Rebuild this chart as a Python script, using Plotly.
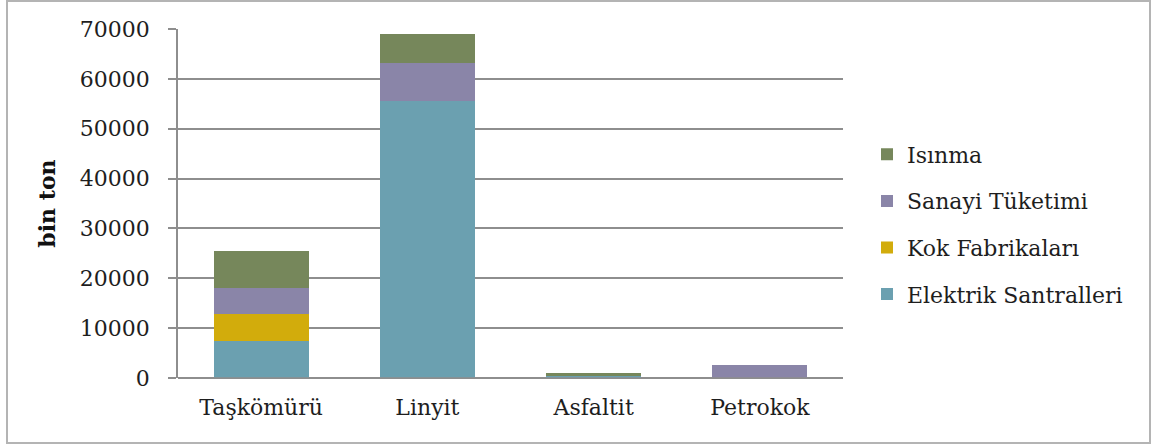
import plotly.graph_objects as go

categories = ["Taşkömürü", "Linyit", "Asfaltit", "Petrokok"]
elektrik = [7400, 55500, 350, 0]
kok = [5400, 0, 0, 0]
sanayi = [5200, 7700, 0, 2600]
isinma = [7400, 5700, 650, 0]
y_ticks = [0, 10000, 20000, 30000, 40000, 50000, 60000, 70000]
y_tick_labels = [str(v) for v in y_ticks]

series = [
    ("Elektrik Santralleri", elektrik, "#6BA0B0", 4),
    ("Kok Fabrikaları", kok, "#D2AC0C", 3),
    ("Sanayi Tüketimi", sanayi, "#8A85A8", 2),
    ("Isınma", isinma, "#76875B", 1),
]

FONT = "DejaVu Serif"
GRID = "#8E8E8E"
TXT = "#1E1E1E"

fig = go.Figure()
for name, vals, color, rank in series:
    fig.add_trace(go.Bar(
        x=categories, y=vals, name=name, legendgroup=name, legendrank=rank,
        marker=dict(color=color, line=dict(width=0)),
    ))

W, H = 1155, 446
L, R, T, B = 178, 843, 29, 378
pw, ph = R - L, B - T

fig.update_layout(
    width=W, height=H,
    barmode="stack", bargap=0.43,
    margin=dict(l=L, r=W - R, t=T, b=H - B, autoexpand=False),
    paper_bgcolor="white", plot_bgcolor="white",
    font=dict(family=FONT, size=22, color=TXT),
    showlegend=True,
    legend=dict(
        traceorder="grouped", tracegroupgap=15,
        x=(867 - L) / pw, xanchor="left",
        y=0.5 - 21 / ph, yanchor="middle",
        font=dict(family=FONT, size=22, color=TXT),
        bgcolor="rgba(0,0,0,0)",
    ),
    xaxis=dict(
        showgrid=False, showline=False, ticks="", zeroline=False,
        tickfont=dict(family=FONT, size=22, color=TXT),
        ticklabelstandoff=14,
    ),
    yaxis=dict(
        range=[0, 70000], tickvals=y_ticks, ticktext=y_tick_labels,
        showgrid=True, gridcolor=GRID, gridwidth=1.6,
        showline=True, linecolor=GRID, linewidth=1.6,
        ticks="outside", ticklen=8, tickcolor=GRID, tickwidth=1.6,
        zeroline=True, zerolinecolor=GRID, zerolinewidth=1.6,
        tickfont=dict(family=FONT, size=22, color=TXT),
        ticklabelstandoff=14,
        title=dict(text="<b>bin ton</b>", font=dict(family=FONT, size=22, color="#111111"), standoff=18),
    ),
    shapes=[
        # outer chart frame
        dict(type="rect", xref="paper", yref="paper",
             x0=(7 - L) / pw, x1=(1150 - L) / pw,
             y0=(B - 443) / ph, y1=(B - 1) / ph,
             line=dict(color="#B4B4B4", width=2), fillcolor="rgba(0,0,0,0)", layer="below"),
        # baseline extending to the left tick
        dict(type="line", xref="paper", yref="y",
             x0=(170 - L) / pw, x1=1, y0=0, y1=0,
             line=dict(color=GRID, width=1.6)),
    ],
)

fig.write_html("out.html")
